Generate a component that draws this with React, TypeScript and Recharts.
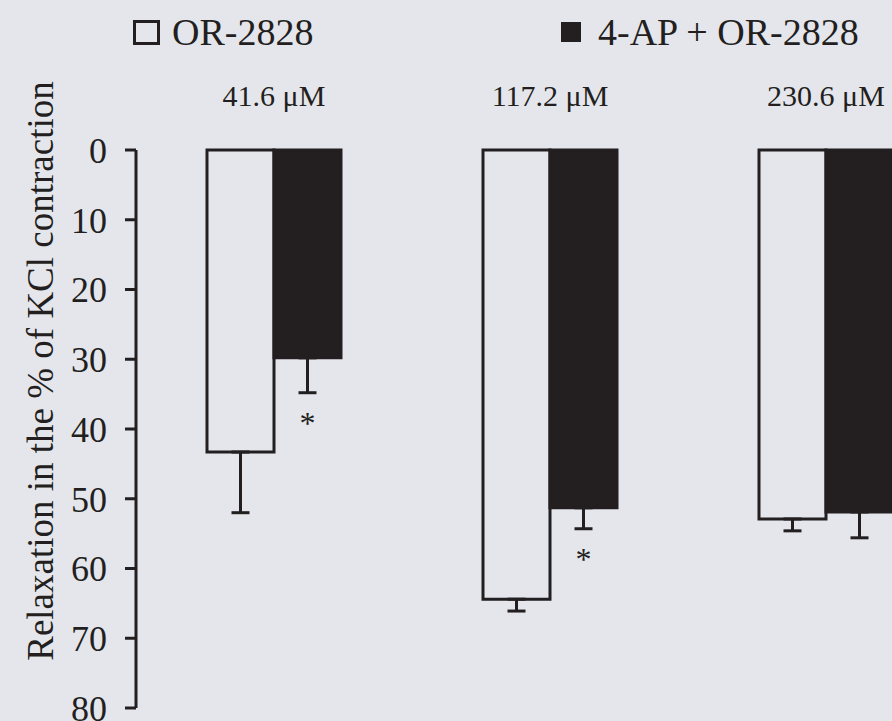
import React from "react";
import { BarChart, Bar, XAxis, YAxis, ErrorBar, LabelList, Legend, Label } from "recharts";

const concentrations = ["41.6 μM", "117.2 μM", "230.6 μM"];
const seriesNames = ["OR-2828", "4-AP + OR-2828"];
const orMean = [43.3, 64.4, 52.9];
const orErr = [8.7, 1.7, 1.7];
const apMean = [29.8, 51.3, 51.9];
const apErr = [5.0, 3.0, 3.7];
const apSig = ["*", "*", ""];
const yTicks = [0, 10, 20, 30, 40, 50, 60, 70, 80];

const FONT = "Liberation Serif";
const INK = "#231f20";
const PAPER = "#e4e6ec";

const data = concentrations.map((c, i) => ({
  conc: c,
  or: orMean[i],
  orErr: [0, orErr[i]],
  ap: apMean[i],
  apErr: [0, apErr[i]],
  sig: apSig[i],
}));

function Asterisk(props: any) {
  const { x, y, width, height, index, value } = props;
  if (!value) return null;
  const bottom = Math.max(y, y + height);
  const pxPerUnit = Math.abs(height) / apMean[index];
  const capY = bottom + apErr[index] * pxPerUnit;
  return (
    <text x={x + width / 2} y={capY + 30} textAnchor="middle" dominantBaseline="central" fontFamily={FONT} fontSize={32} fill={INK}>
      {value}
    </text>
  );
}

function YTitle(props: any) {
  const { viewBox } = props;
  const cx = viewBox.x + 40;
  const cy = viewBox.y + viewBox.height / 2 - 58;
  return (
    <text x={cx} y={cy} transform={`rotate(-90, ${cx}, ${cy})`} textAnchor="middle" dominantBaseline="central" fontFamily={FONT} fontSize={37} fill={INK}>
      Relaxation in the % of KCl contraction
    </text>
  );
}

const legendLeft = [133, 561];

function LegendBox(props: any) {
  const items = [...(props.payload || [])].sort(
    (a: any, b: any) => seriesNames.indexOf(a.value) - seriesNames.indexOf(b.value)
  );
  return (
    <div style={{ position: "relative", width: 892, height: 70 }}>
      {items.map((p: any, i: number) => (
        <div
          key={p.value}
          style={{ position: "absolute", left: legendLeft[i], top: 7, display: "flex", alignItems: "center", fontFamily: FONT, fontSize: 38, color: INK, lineHeight: "50px", whiteSpace: "nowrap" }}
        >
          <span
            style={{
              display: "inline-block",
              width: i === 0 ? 21 : 20,
              height: i === 0 ? 19 : 20,
              background: i === 0 ? "transparent" : INK,
              border: i === 0 ? `3px solid ${INK}` : "none",
              marginRight: i === 0 ? 12 : 17,
            }}
          />
          <span>{p.value}</span>
        </div>
      ))}
    </div>
  );
}

export default function App() {
  return (
    <div style={{ position: "absolute", left: 0, top: 0, width: 892, height: 721, overflow: "hidden", background: PAPER }}>
      <BarChart width={980} height={721} data={data} margin={{ top: 0, right: 16, bottom: 13, left: 0 }} barSize={67} barGap={0}>
        <Legend verticalAlign="top" content={<LegendBox />} wrapperStyle={{ top: 0, left: 0, width: 892, height: 70 }} />
        <XAxis
          dataKey="conc"
          orientation="top"
          height={80}
          axisLine={false}
          tickLine={false}
          tickSize={0}
          tickMargin={44}
          tick={{ fontFamily: FONT, fontSize: 30, fill: INK }}
        />
        <YAxis
          reversed
          domain={[0, 80]}
          ticks={yTicks}
          width={136}
          tickSize={11}
          tickMargin={18}
          axisLine={{ stroke: INK, strokeWidth: 3 }}
          tickLine={{ stroke: INK, strokeWidth: 3 }}
          tick={{ fontFamily: FONT, fontSize: 36, fill: INK }}
          interval={0}
        >
          <Label content={<YTitle />} />
        </YAxis>
        <Bar dataKey="or" name={seriesNames[0]} fill={PAPER} stroke={INK} strokeWidth={3} isAnimationActive={false}>
          <ErrorBar dataKey="orErr" direction="y" width={9} stroke={INK} strokeWidth={3} />
        </Bar>
        <Bar dataKey="ap" name={seriesNames[1]} fill={INK} stroke={INK} strokeWidth={3} isAnimationActive={false}>
          <ErrorBar dataKey="apErr" direction="y" width={9} stroke={INK} strokeWidth={3} />
          <LabelList dataKey="sig" content={<Asterisk />} />
        </Bar>
      </BarChart>
    </div>
  );
}
